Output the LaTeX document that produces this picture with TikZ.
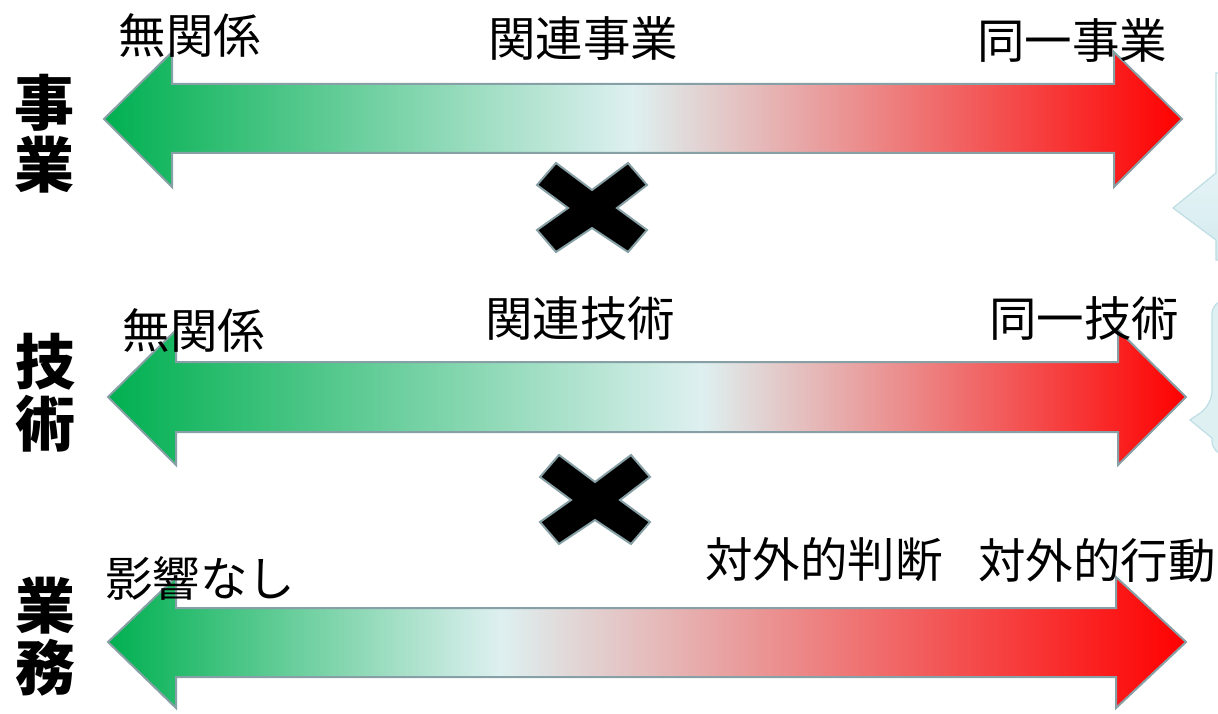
\documentclass[tikz,border=0pt]{standalone}
\usepackage{fontspec}
\newfontfamily\jp{Noto Sans CJK JP}
\definecolor{gA}{RGB}{0,176,80}
\definecolor{lA}{RGB}{222,240,240}
\definecolor{rA}{RGB}{255,0,0}
\definecolor{edgec}{RGB}{135,160,165}
\definecolor{callfill}{RGB}{212,235,239}
\definecolor{calledge}{RGB}{190,222,228}
\pgfdeclarehorizontalshading{rowone}{100bp}{color(0bp)=(gA); color(25bp)=(gA); color(49.5bp)=(lA); color(75bp)=(rA); color(100bp)=(rA)}
\pgfdeclarehorizontalshading{rowtwo}{100bp}{color(0bp)=(gA); color(25bp)=(gA); color(52.5bp)=(lA); color(75bp)=(rA); color(100bp)=(rA)}
\pgfdeclarehorizontalshading{rowthree}{100bp}{color(0bp)=(gA); color(25bp)=(gA); color(43.2bp)=(lA); color(75bp)=(rA); color(100bp)=(rA)}
\tikzset{
  arrowbody/.style={draw=edgec, line width=2pt, line join=miter},
  xmark/.style={fill=black, draw=edgec, line width=2pt, line join=miter},
  lbl/.style={font=\jp\fontsize{47.5}{50}\selectfont, inner sep=0pt, text=black},
  side/.style={font=\jp\bfseries\fontsize{60}{62}\selectfont, inner sep=0pt, align=center, text=black},
  callout/.style={draw=calledge, line width=1.2pt}
}
\begin{document}
\begin{tikzpicture}[x=1pt,y=-1pt]
\clip (0,0) rectangle (1218,714);
\fill[white] (0,0) rectangle (1218,714);
% callouts at right edge
\shade[callout, top color=white, bottom color=callfill, middle color=callfill!60!white]
  (1216,73) -- (1216,173) -- (1173,208) -- (1216,240) -- (1216,260) -- (1240,260) -- (1240,73) -- cycle;
\draw[callout, fill=callfill!75!white]
  (1240,300) [rounded corners=14pt] -- (1212,300) -- (1212,405) [sharp corners] -- (1190,420) -- (1212,438) [rounded corners=14pt] -- (1212,455) -- (1240,455) [sharp corners] -- cycle;
% arrows
\shadedraw[arrowbody, shading=rowone]
  (104,119) -- (172,52) -- (172,84) -- (1114,84) -- (1114,52) -- (1182,119) -- (1114,187) -- (1114,153) -- (172,153) -- (172,187) -- cycle;
\shadedraw[arrowbody, shading=rowtwo]
  (108,397) -- (176,330) -- (176,362) -- (1118,362) -- (1118,330) -- (1186,397) -- (1118,465) -- (1118,432) -- (176,432) -- (176,465) -- cycle;
\shadedraw[arrowbody, shading=rowthree]
  (108,642) -- (176,577) -- (176,608) -- (1116,608) -- (1116,577) -- (1186,642) -- (1116,708) -- (1116,677) -- (176,677) -- (176,708) -- cycle;
% X marks
\foreach \dx/\dy in {0/0, 3/292}{
  \draw[xmark, shift={(\dx,\dy)}]
    (556,163) -- (592,190) -- (628,163) -- (647,185) -- (617,208) -- (647,230) -- (628,252) -- (592,228) -- (556,252) -- (537,230) -- (568,208) -- (537,185) -- cycle;
}
% side labels
\node[side] (s1) at (44,134) {事\\業};
\node[side] (s2) at (45,393) {技\\術};
\node[side] (s3) at (45,637) {業\\務};
% row labels
\node[lbl] (a1) at (190,36) {無関係};
\node[lbl] (a2) at (583,38) {関連事業};
\node[lbl] (a3) at (1072,40) {同一事業};
\node[lbl] (b1) at (194,330) {無関係};
\node[lbl] (b2) at (580,318) {関連技術};
\node[lbl] (b3) at (1084,318) {同一技術};
\node[lbl] (c1) at (200,578) {影響なし};
\node[lbl] (c2) at (824,560) {対外的判断};
\node[lbl] (c3) at (1097,560) {対外的行動};
\end{tikzpicture}
\end{document}
